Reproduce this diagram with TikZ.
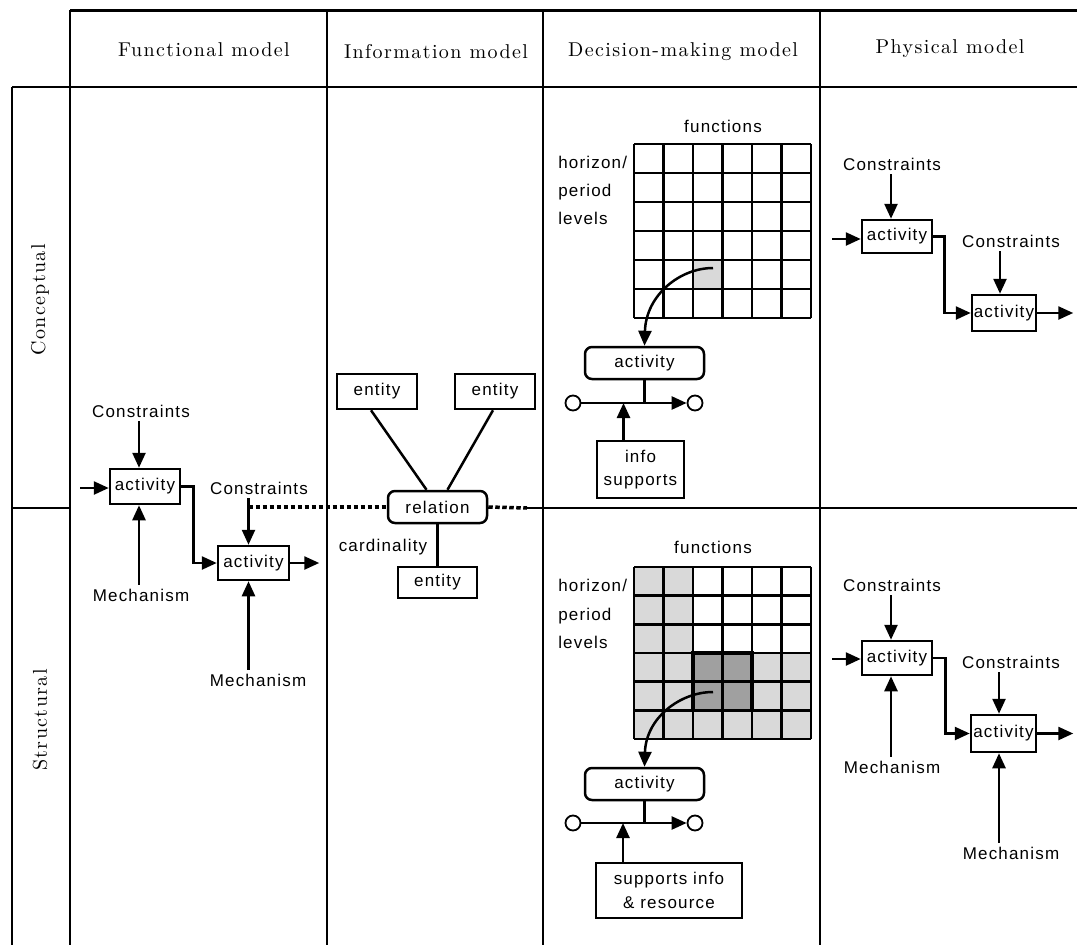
\documentclass[tikz,border=0pt]{standalone}
\usepackage{fontspec}
\usetikzlibrary{arrows.meta,calc}
\newfontfamily\lblfont[LetterSpace=7]{Liberation Sans}
\newfontfamily\hdrfam[Extension=.otf,LetterSpace=7]{lmroman10-regular}
\newcommand\hdrfont{\hdrfam\fontsize{20}{22}\selectfont}
\definecolor{lgray}{HTML}{D9D9D9}
\definecolor{dgray}{HTML}{A0A0A0}
\begin{document}
\begin{tikzpicture}[x=1pt,y=-1pt,line width=2.5pt,
  tbl/.style={line width=2.5pt},
  lbl/.style={inner sep=0pt, font=\lblfont\fontsize{17}{22}\selectfont},
  hdr/.style={inner sep=0pt, font=\hdrfont},
  abox/.style={draw, line width=2.5pt, inner sep=0pt, font=\lblfont\fontsize{17}{22}\selectfont, align=center},
  rbox/.style={abox, rounded corners=7pt},
  arr/.style={line width=2.5pt, -{Triangle[length=15pt,width=13pt]}},
  dotl/.style={line width=3.5pt, dash pattern=on 4.5pt off 2.5pt},
  circ/.style={draw, circle, line width=1.8pt, minimum size=15pt, inner sep=0pt},
  gridl/.style={line width=2.5pt}]
\useasboundingbox (0,0) rectangle (1077,945);
\fill[white] (0,0) rectangle (1077,945);

% ---------- table ----------
\draw[line width=3pt] (70,10) -- (1077,10);
\draw[tbl] (12,87) -- (1077,87);
\foreach \xx in {70,327,543,820} {\draw[tbl] (\xx,10) -- (\xx,945);}
\draw[tbl] (12,87) -- (12,945);
\draw[tbl] (12,508) -- (70,508);

\node[hdr] (h1) at (204,50) {Functional model};
\node[hdr] (h2) at (436,52) {Information model};
\node[hdr] (h3) at (683,52) {Decision-making model};
\node[hdr] (h4) at (950,49) {Physical model};
\node[hdr, rotate=90] (r1) at (40,300) {Conceptual};
\node[hdr, rotate=90] (r2) at (40,720) {Structural};

% ---------- functional model ----------
\node[abox, minimum width=70pt, minimum height=35pt] (fa1) at (145,486.5) {activity};
\node[abox, minimum width=71pt, minimum height=34pt] (fa2) at (253.5,563) {activity};
\node[lbl] (fc1) at (141,411) {Constraints};
\node[lbl] (fm1) at (141,595) {Mechanism};
\node[lbl] (fc2) at (259,488) {Constraints};
\node[lbl] (fm2) at (258,680) {Mechanism};
\coordinate (fin1) at (80,488);
\coordinate (fa1t) at ($(fa1.north)+(-6,0)$);
\coordinate (fa1b) at ($(fa1.south)+(-6,0)$);
\coordinate (fa2t) at ($(fa2.north)+(-5,0)$);
\coordinate (fa2b) at ($(fa2.south)+(-5,0)$);
\draw[arr] (fin1) -- (fin1 -| fa1.west);
\draw[arr] ($(fa1t |- fc1.south)+(0,3)$) -- (fa1t);
\draw[arr] ($(fa1b |- fm1.north)+(0,-3)$) -- (fa1b);
\draw[arr] (fa1.east) -- ++(12,0) |- (fa2.west);
\draw[arr] ($(fa2t |- fc2.south)+(0,3)$) -- (fa2t);
\draw[arr] ($(fa2b |- fm2.north)+(0,-3)$) -- (fa2b);
\draw[arr] (fa2.east) -- ++(29,0);

% ---------- information model ----------
\node[abox, minimum width=80pt, minimum height=35pt] (e1) at (377,391.5) {entity};
\node[abox, minimum width=80pt, minimum height=35pt] (e2) at (495,391.5) {entity};
\node[rbox, minimum width=99pt, minimum height=32pt] (rel) at (437.5,507) {relation};
\node[abox, minimum width=79pt, minimum height=31pt] (e3) at (437.5,582.5) {entity};
\node[lbl] (card) at (383,547) {cardinality};
\draw ($(e1.south)+(-6,0)$) -- ($(rel.north)+(-11,0)$);
\draw ($(e2.south)+(-2,0)$) -- ($(rel.north)+(10,0)$);
\draw (rel.south) -- (e3.north);
\coordinate (divR) at (527,508);
\draw[dotl] (fa2t |- rel.west) -- (rel.west);
\draw[dotl] (rel.east) -- (divR);
\draw[tbl] (divR) -- (1077,508);

% ---------- decision-making, conceptual ----------
\node[lbl] (dfun1) at (723,126) {functions};
\node[lbl, anchor=north west, align=left, font=\lblfont\fontsize{17}{28}\selectfont] (dhor1) at (557,155) {horizon/\\period\\levels};
\fill[lgray] (693,260) rectangle (722.5,289);
\foreach \i in {0,...,6} {
  \draw[gridl] ({634+\i*29.5},144) -- ({634+\i*29.5},318);
  \draw[gridl] (634,{144+\i*29}) -- (811,{144+\i*29});
}
\coordinate (gs1) at (713,268);
\node[rbox, minimum width=119pt, minimum height=32pt] (dact1) at (644.5,363) {activity};
\draw[arr] (gs1) .. controls (680,268) and (646,295) .. (dact1.north);
\node[circ] (dc1) at (573,403) {};
\node[circ] (dc2) at (695,403) {};
\draw[arr] (dc1) -- (dc2);
\draw (dact1.south) -- (dact1.south |- dc1.center);
\node[abox, minimum width=87pt, minimum height=57pt, font=\lblfont\fontsize{17}{23}\selectfont] (dinfo) at (640.5,469.5) {info\\supports};
\coordinate (dit) at ($(dinfo.north)+(-17,0)$);
\draw[arr] (dit) -- (dit |- dc1.center);

% ---------- decision-making, structural ----------
\node[lbl] (dfun2) at (713,547) {functions};
\node[lbl, anchor=north west, align=left, font=\lblfont\fontsize{17}{28.5}\selectfont] (dhor2) at (557,578) {horizon/\\period\\levels};
\fill[lgray] (634,567) rectangle (693,739);
\fill[lgray] (634,653) rectangle (811,739);
\fill[dgray] (693,653) rectangle (752,710.3);
\foreach \i in {0,...,6} {
  \draw[gridl] ({634+\i*29.5},567) -- ({634+\i*29.5},739);
  \draw[gridl] (634,{567+\i*28.667}) -- (811,{567+\i*28.667});
}
\draw[line width=3.5pt] (693,653) rectangle (752,710.3);
\coordinate (gs2) at (713,692);
\node[rbox, minimum width=119pt, minimum height=32pt] (dact2) at (644.5,784) {activity};
\draw[arr] (gs2) .. controls (680,692) and (646,718) .. (dact2.north);
\node[circ] (dc3) at (573,823) {};
\node[circ] (dc4) at (695,823) {};
\draw[arr] (dc3) -- (dc4);
\draw (dact2.south) -- (dact2.south |- dc3.center);
\node[abox, minimum width=146pt, minimum height=55pt, font=\lblfont\fontsize{17}{24}\selectfont] (dsup) at (669,890.5) {supports info\\\& resource};
\coordinate (dst) at (623,863);
\draw[arr] (dst) -- (dst |- dc3.center);

% ---------- physical, conceptual ----------
\node[abox, minimum width=70pt, minimum height=33pt] (pa1) at (897,236.5) {activity};
\node[abox, minimum width=64pt, minimum height=36pt] (pa2) at (1004,313) {activity};
\node[lbl] (pc1) at (892,164) {Constraints};
\node[lbl] (pc2) at (1011,241) {Constraints};
\coordinate (pin1) at (832,239);
\draw[arr] (pin1) -- (pin1 -| pa1.west);
\coordinate (pa1t) at ($(pa1.north)+(-6,0)$);
\draw[arr] ($(pa1t |- pc1.south)+(0,3)$) -- (pa1t);
\draw[arr] (pa1.east) -- ++(11,0) |- (pa2.west);
\coordinate (pa2t) at ($(pa2.north)+(-4,0)$);
\draw[arr] ($(pa2t |- pc2.south)+(0,3)$) -- (pa2t);
\draw[arr] (pa2.east) -- ++(36,0);

% ---------- physical, structural ----------
\node[abox, minimum width=70pt, minimum height=34pt] (pa3) at (897,658) {activity};
\node[abox, minimum width=65pt, minimum height=37pt] (pa4) at (1003.5,733.5) {activity};
\node[lbl] (pc3) at (892,585) {Constraints};
\node[lbl] (pm3) at (892,767) {Mechanism};
\node[lbl] (pc4) at (1011,662) {Constraints};
\node[lbl] (pm4) at (1011,853) {Mechanism};
\coordinate (pin3) at (832,659);
\draw[arr] (pin3) -- (pin3 -| pa3.west);
\coordinate (pa3t) at ($(pa3.north)+(-6,0)$);
\coordinate (pa3b) at ($(pa3.south)+(-6,0)$);
\draw[arr] ($(pa3t |- pc3.south)+(0,3)$) -- (pa3t);
\draw[arr] ($(pa3b |- pm3.north)+(0,-3)$) -- (pa3b);
\draw[arr] (pa3.east) -- ++(12,0) |- (pa4.west);
\coordinate (pa4t) at ($(pa4.north)+(-4.5,0)$);
\coordinate (pa4b) at ($(pa4.south)+(-4.5,0)$);
\draw[arr] ($(pa4t |- pc4.south)+(0,3)$) -- (pa4t);
\draw[arr] ($(pa4b |- pm4.north)+(0,-3)$) -- (pa4b);
\draw[arr] (pa4.east) -- ++(36,0);
\end{tikzpicture}
\end{document}
